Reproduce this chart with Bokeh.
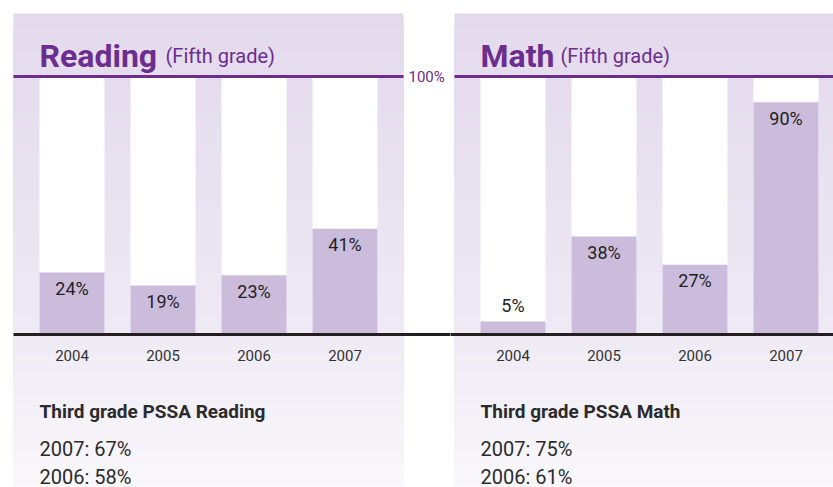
from bokeh.plotting import figure
from bokeh.layouts import row
from bokeh.models import Range1d
from bokeh.core.properties import value
from bokeh.embed import file_html
from bokeh.resources import INLINE

# ---- data ----
years = ["2004", "2005", "2006", "2007"]
reading_fifth = [24, 19, 23, 41]
math_fifth = [5, 38, 27, 90]
reading_title = "Reading"
math_title = "Math"
subtitle = "(Fifth grade)"
reading_third_title = "Third grade PSSA Reading"
math_third_title = "Third grade PSSA Math"
reading_third = [("2007", 67), ("2006", 58)]
math_third = [("2007", 75), ("2006", 61)]

# ---- style ----
FONT = "Roboto"
PURPLE = "#6c2d8e"
BAR = "#cbbcdc"
DARK = "#2b2b2b"
STEP = 91.0          # px per category
BAR_W = 65 / STEP
GAP = 26 / STEP
PANEL_L = -BAR_W / 2 - GAP
PANEL_R = len(years) - 1 + BAR_W / 2 + GAP
PX_PER_PCT = 2.58
Y_TOP = 100 + 76 / PX_PER_PCT
Y_BOT = -153 / PX_PER_PCT
PANEL_TOP = 100 + 63 / PX_PER_PCT
H = 487
BASE_SHIFT = 8  # px correction for alphabetic baseline rendering


def hex2rgb(h):
    h = h.lstrip("#")
    return [int(h[i:i + 2], 16) for i in (0, 2, 4)]


def blend(c0, c1, t):
    a, b = hex2rgb(c0), hex2rgb(c1)
    return "#%02x%02x%02x" % tuple(int(round(a[i] + (b[i] - a[i]) * t)) for i in range(3))


def make_panel(width, x0_px, vals, title, title_off, third_title, third, show_100):
    x_start = -x0_px / STEP
    x_end = (width - x0_px) / STEP
    p = figure(width=width, height=H, output_backend="svg", toolbar_location=None,
               x_range=Range1d(x_start, x_end), y_range=Range1d(Y_BOT, Y_TOP),
               min_border=0, x_axis_location=None, y_axis_location=None,
               background_fill_color="white", border_fill_color="white",
               outline_line_color=None)
    p.grid.visible = False

    xs = list(range(len(years)))
    pr = min(PANEL_R, x_end + 1)

    # gradient panel background (stacked, each band runs to the bottom -> no seams)
    n = 60
    tops, cols = [], []
    bottom = Y_BOT - 5
    span = PANEL_TOP - bottom
    for i in range(n):
        tops.append(PANEL_TOP - span * i / n)
        t = (i + 0.5) / n
        if t < 0.6:
            c = blend("#e3daec", "#ede8f3", t / 0.6)
        else:
            c = blend("#ede8f3", "#faf9fc", (t - 0.6) / 0.4)
        cols.append(c)
    p.quad(left=PANEL_L, right=pr, top=tops, bottom=bottom, fill_color=cols,
           line_color=None)

    # white 100% tracks and bars
    p.vbar(x=xs, top=100, bottom=0, width=BAR_W, fill_color="white", line_color=None)
    p.vbar(x=xs, top=vals, bottom=0, width=BAR_W, fill_color=BAR, line_color=None)

    # value labels
    for x, v in zip(xs, vals):
        inside = v >= 15
        p.text(x=[x], y=[v], text=[f"{v}%"], text_align="center",
               text_baseline="middle", y_offset=16 if inside else -16,
               text_font=value(FONT), text_font_size="18px", text_color="#222222")

    # 100% line and baseline
    p.segment(x0=[PANEL_L], x1=[pr], y0=[100], y1=[100], line_color=PURPLE, line_width=3)
    p.segment(x0=[PANEL_L if show_100 else x_start - 1], x1=[x_end + 1], y0=[0], y1=[0],
              line_color="#231f20", line_width=3)
    if show_100:
        p.text(x=[PANEL_R], y=[100], text=["100%"], text_align="left",
               text_baseline="middle", x_offset=5, text_font=value(FONT),
               text_font_size="15px", text_color=PURPLE)

    # year labels
    p.text(x=xs, y=[-21 / PX_PER_PCT] * len(xs), text=years, text_align="center",
           text_baseline="middle", text_font=value(FONT), text_font_size="15px",
           text_color="#333333")

    # titles
    lx = -BAR_W / 2
    ty = 100 + 13 / PX_PER_PCT
    p.text(x=[lx], y=[ty], text=[title], text_align="left", y_offset=-BASE_SHIFT,
           text_baseline="alphabetic", text_font=value(FONT), text_font_size="32px",
           text_font_style="bold", text_color=PURPLE)
    p.text(x=[lx], y=[ty], text=[subtitle], text_align="left", y_offset=-BASE_SHIFT,
           text_baseline="alphabetic", x_offset=title_off, text_font=value(FONT),
           text_font_size="20px", text_color=PURPLE)

    # third grade block
    p.text(x=[lx], y=[-84 / PX_PER_PCT], text=[third_title], text_align="left",
           y_offset=-BASE_SHIFT + 1,
           text_baseline="alphabetic", text_font=value(FONT), text_font_size="19px",
           text_font_style="bold", text_color=DARK)
    for k, (yr, v) in enumerate(third):
        p.text(x=[lx], y=[-(121 + 28 * k) / PX_PER_PCT], text=[f"{yr}: {v}%"],
               y_offset=-BASE_SHIFT + 1,
               text_align="left", text_baseline="alphabetic", text_font=value(FONT),
               text_font_size="20px", text_color=DARK)
    return p


left = make_panel(450, 71.5, reading_fifth, reading_title, 126,
                  reading_third_title, reading_third, True)
right = make_panel(383, 62.5, math_fifth, math_title, 80,
                   math_third_title, math_third, False)

layout = row(left, right, spacing=0)
open("out.html", "w").write(file_html(layout, INLINE))
